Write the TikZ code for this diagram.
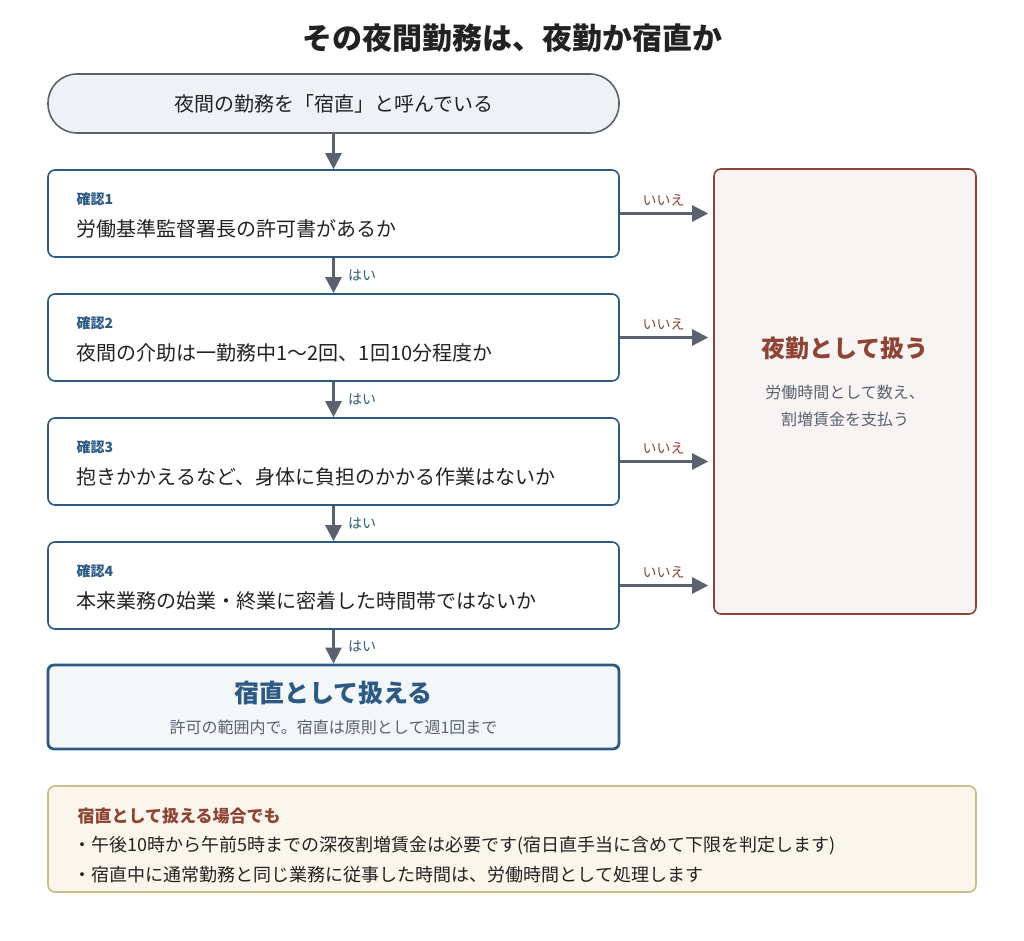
\documentclass[tikz,border=0pt]{standalone}
\usepackage{fontspec}
\setmainfont{Noto Sans CJK JP}
\usetikzlibrary{arrows.meta}
\definecolor{blu}{HTML}{2C5A85}
\definecolor{gry}{HTML}{5A6270}
\definecolor{brn}{HTML}{8E4335}
\definecolor{txt}{HTML}{222222}
\definecolor{startfill}{HTML}{EEF2F7}
\definecolor{notefill}{HTML}{FAF6EC}
\definecolor{notedraw}{HTML}{CDBB8C}
\tikzset{
  check/.style = {draw=blu, line width=1.6pt, fill=white, rounded corners=7pt,
                  minimum width=571pt, minimum height=87pt},
  flow/.style = {draw=gry, line width=2.5pt, -{Triangle[length=16pt,width=16pt]}},
  yes/.style = {text=blu, font=\fontsize{14}{16}\selectfont},
  no/.style = {text=brn, font=\fontsize{14}{16}\selectfont}
}
\begin{document}
\begin{tikzpicture}[x=1pt,y=-1pt]
  \useasboundingbox (0,0) rectangle (1024,941);
  \node [font=\fontsize{30}{34}\selectfont\bfseries, text=txt] (title) at (512,38) {その夜間勤務は、夜勤か宿直か};
  % start
  \node [draw=gry, line width=1.6pt, fill=startfill, rounded corners=29pt,
         minimum width=571pt, minimum height=59pt, font=\fontsize{20}{24}\selectfont, text=txt]
         (start) at (333.5,103.5) {夜間の勤務を「宿直」と呼んでいる};
  % checks
  \node [check] (c1) at (333.5,213.5) {};
  \node [check] (c2) at (333.5,337.5) {};
  \node [check] (c3) at (333.5,461.5) {};
  \node [check] (c4) at (333.5,585.5) {};
  \foreach \i/\q in {1/労働基準監督署長の許可書があるか,
                     2/夜間の介助は一勤務中1〜2回、1回10分程度か,
                     3/抱きかかえるなど、身体に負担のかかる作業はないか,
                     4/本来業務の始業・終業に密着した時間帯ではないか} {
    \node [anchor=west, text=blu, font=\fontsize{14}{16}\selectfont\bfseries]
          (k\i) at ([xshift=26pt,yshift=14pt]c\i.west) {確認\i};
    \node [anchor=west, text=txt, font=\fontsize{20}{24}\selectfont]
          (q\i) at ([xshift=26pt,yshift=-15pt]c\i.west) {\q};
  }
  % right box
  \node [draw=brn, line width=1.6pt, fill=brn!6, rounded corners=7pt,
         minimum width=262pt, minimum height=445pt] (yakin) at (845,391.5) {};
  \node [text=brn, font=\fontsize{24}{28}\selectfont\bfseries] (yakinT) at (845,348) {夜勤として扱う};
  \node [text=gry, font=\fontsize{16}{27}\selectfont, align=center] (yakinS) at (845,406)
        {労働時間として数え、\\割増賃金を支払う};
  % result
  \node [draw=blu, line width=2.8pt, fill=blu!5, rounded corners=6pt,
         minimum width=571pt, minimum height=84pt] (shuku) at (333.5,707) {};
  \node [text=blu, font=\fontsize{25}{28}\selectfont\bfseries] (shukuT) at (333.5,693) {宿直として扱える};
  \node [text=gry, font=\fontsize{16}{19}\selectfont] (shukuS) at (333.5,727) {許可の範囲内で。宿直は原則として週1回まで};
  % arrows
  \draw [flow] (start) -- (c1);
  \draw [flow] (c1) -- node [yes, right=10pt] {はい} (c2);
  \draw [flow] (c2) -- node [yes, right=10pt] {はい} (c3);
  \draw [flow] (c3) -- node [yes, right=10pt] {はい} (c4);
  \draw [flow] (c4) -- node [yes, right=10pt] {はい} (shuku);
  \foreach \i in {1,...,4}
    \draw [flow, shorten >=5pt] (c\i.east) -- node [no, above=3pt, pos=0.47] {いいえ} (c\i.east -| yakin.west);
  % note
  \node [draw=notedraw, line width=1.6pt, fill=notefill, rounded corners=7pt,
         minimum width=928pt, minimum height=106pt] (note) at (512,839) {};
  \node [anchor=west, text=brn, font=\fontsize{17}{20}\selectfont\bfseries] (noteT) at (74,816) {宿直として扱える場合でも};
  \node [anchor=west, text=txt, font=\fontsize{18}{21}\selectfont] (n1) at (70,846)
        {・午後10時から午前5時までの深夜割増賃金は必要です(宿日直手当に含めて下限を判定します)};
  \node [anchor=west, text=txt, font=\fontsize{18}{21}\selectfont] (n2) at (70,875)
        {・宿直中に通常勤務と同じ業務に従事した時間は、労働時間として処理します};
\end{tikzpicture}
\end{document}
